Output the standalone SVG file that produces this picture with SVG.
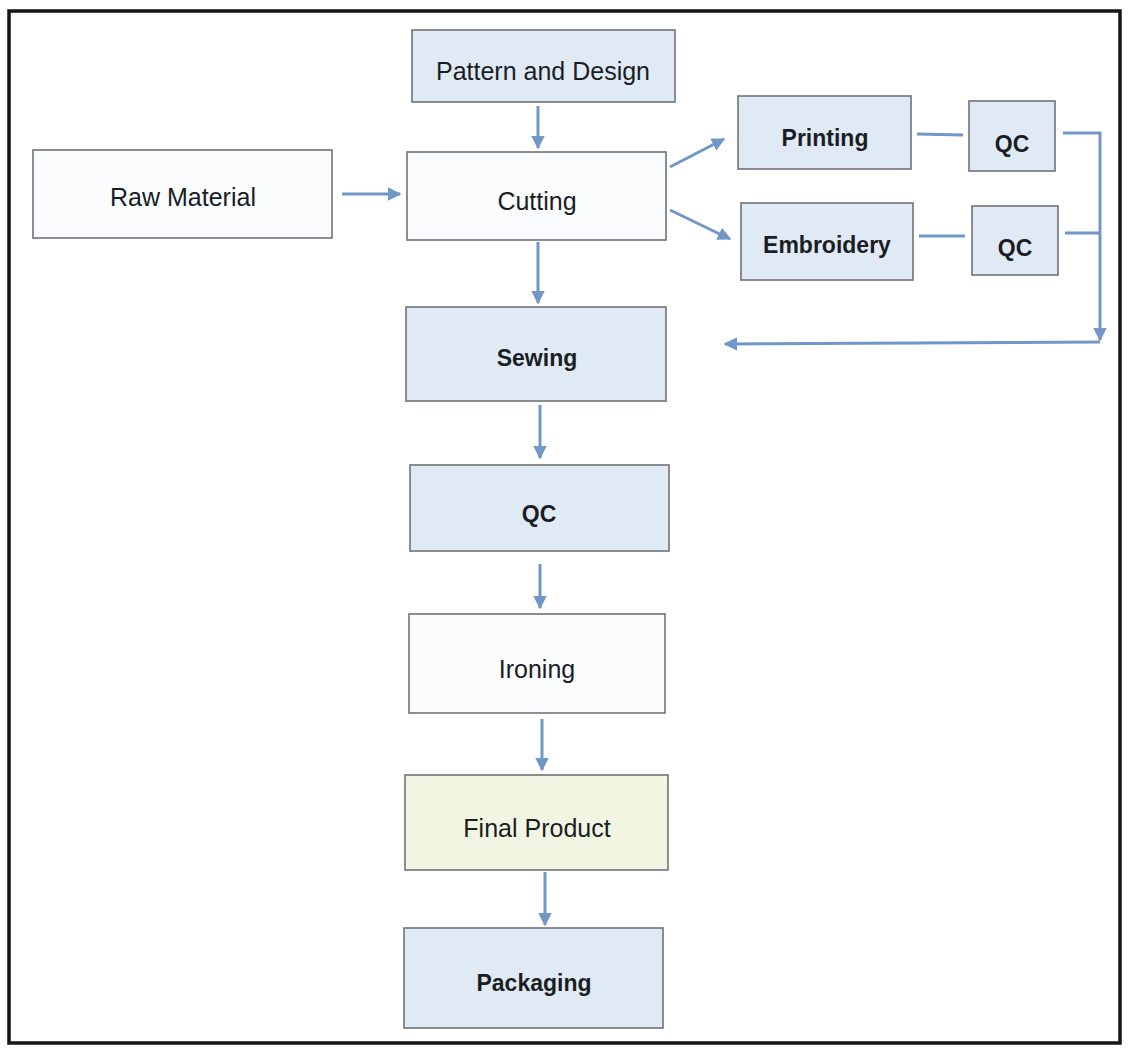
<svg xmlns="http://www.w3.org/2000/svg" width="1128" height="1048" viewBox="0 0 1128 1048">
<defs>
<marker id="ah" viewBox="0 0 10 10" refX="9" refY="5" markerWidth="4.5" markerHeight="4.5" orient="auto" markerUnits="strokeWidth">
<path d="M0,0 L10,5 L0,10 z" fill="#7196c8"/>
</marker>
</defs>
<style>
.box{stroke:#6f7478;stroke-width:1.6}
.w{fill:#fafcfd}
.b{fill:#e0eaf5}
.y{fill:#f2f5e2}
text{font-family:"Liberation Sans",Arial,sans-serif;fill:#1b1d24;text-anchor:middle;dominant-baseline:central}
.r{font-size:25px}
.bd{font-size:23px;font-weight:bold}
.c{stroke:#7196c8;stroke-width:3;fill:none}
</style>
<rect x="0" y="0" width="1128" height="1048" fill="#ffffff"/>
<rect x="9" y="11" width="1111" height="1032" fill="#ffffff" stroke="#151515" stroke-width="3.5"/>
<g id="pattern"><rect class="box b" x="412" y="30" width="263" height="72"/><text class="r" x="543" y="71">Pattern and Design</text></g>
<g id="raw"><rect class="box w" x="33" y="150" width="299" height="88"/><text class="r" x="183" y="197">Raw Material</text></g>
<g id="cutting"><rect class="box w" x="407" y="152" width="259" height="88"/><text class="r" x="537" y="201">Cutting</text></g>
<g id="printing"><rect class="box b" x="738" y="96" width="173" height="73"/><text class="bd" x="825" y="138">Printing</text></g>
<g id="qc1"><rect class="box b" x="969" y="101" width="86" height="70"/><text class="bd" x="1012" y="144">QC</text></g>
<g id="embroidery"><rect class="box b" x="741" y="203" width="172" height="77"/><text class="bd" x="827" y="245">Embroidery</text></g>
<g id="qc2"><rect class="box b" x="972" y="206" width="86" height="69"/><text class="bd" x="1015" y="248">QC</text></g>
<g id="sewing"><rect class="box b" x="406" y="307" width="260" height="94"/><text class="bd" x="537" y="358">Sewing</text></g>
<g id="qc"><rect class="box b" x="410" y="465" width="259" height="86"/><text class="bd" x="539" y="514">QC</text></g>
<g id="ironing"><rect class="box w" x="409" y="614" width="256" height="99"/><text class="r" x="537" y="669">Ironing</text></g>
<g id="final"><rect class="box y" x="405" y="775" width="263" height="95"/><text class="r" x="537" y="828">Final Product</text></g>
<g id="packaging"><rect class="box b" x="404" y="928" width="259" height="100"/><text class="bd" x="534" y="983">Packaging</text></g>
<g id="connectors">
<line class="c" x1="538" y1="106" x2="538" y2="148" marker-end="url(#ah)"/>
<line class="c" x1="342" y1="194" x2="400" y2="194" marker-end="url(#ah)"/>
<line class="c" x1="538" y1="242" x2="538" y2="303" marker-end="url(#ah)"/>
<line class="c" x1="670" y1="167" x2="724" y2="139" marker-end="url(#ah)"/>
<line class="c" x1="670" y1="210" x2="730" y2="239" marker-end="url(#ah)"/>
<line class="c" x1="917" y1="134" x2="963" y2="135"/>
<line class="c" x1="919" y1="236" x2="965" y2="236"/>
<polyline class="c" points="1063,133 1100,133 1100,340" marker-end="url(#ah)"/>
<line class="c" x1="1065" y1="233" x2="1100" y2="233"/>
<line class="c" x1="1100" y1="342" x2="725" y2="344" marker-end="url(#ah)"/>
<line class="c" x1="540" y1="405" x2="540" y2="458" marker-end="url(#ah)"/>
<line class="c" x1="540" y1="564" x2="540" y2="608" marker-end="url(#ah)"/>
<line class="c" x1="542" y1="719" x2="542" y2="770" marker-end="url(#ah)"/>
<line class="c" x1="545" y1="872" x2="545" y2="925" marker-end="url(#ah)"/>
</g>
</svg>
